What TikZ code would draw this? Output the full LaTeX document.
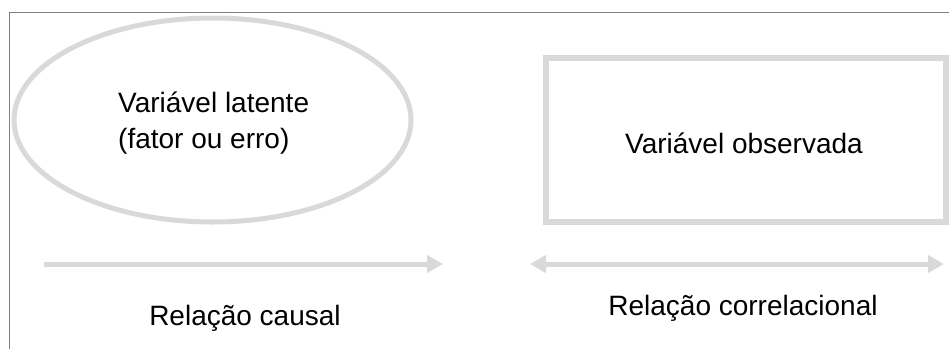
\documentclass[tikz,border=0pt]{standalone}
\usepackage{fontspec}
\setmainfont{Liberation Sans}
\usetikzlibrary{arrows.meta,shapes.geometric}
\definecolor{shapegray}{HTML}{D9D9D9}
\definecolor{framegray}{HTML}{808080}
\tikzset{
  frameline/.style={draw=framegray,line width=1.5pt},
  shapeline/.style={draw=shapegray,line width=5pt},
  label/.style={font=\fontsize{28}{34}\selectfont,text=black,inner sep=0pt,anchor=base},
  labelleft/.style={label,anchor=base west},
  arrowline/.style={draw=shapegray,line width=5pt},
  tip/.tip={Triangle[length=16pt,width=17pt]}
}
\begin{document}
\begin{tikzpicture}[x=1pt,y=-1pt]
  \useasboundingbox (0,0) rectangle (949,349);
  % open frame: top and left edges
  \coordinate (ftr) at (949,12.5);
  \coordinate (ftl) at (9.5,12.5);
  \coordinate (fbl) at (9.5,349);
  \draw[frameline] (ftr) -- (ftl) -- (fbl);

  % latent variable
  \node[ellipse,shapeline,minimum width=397pt,minimum height=204pt,inner sep=0pt] (lat) at (212.5,120) {};
  \node[labelleft] (lat1) at (118,112) {Variável latente};
  \node[labelleft] (lat2) at (118,148) {(fator ou erro)};

  % observed variable
  \node[rectangle,draw=shapegray,line width=6pt,minimum width=399.5pt,minimum height=164pt,inner sep=0pt] (obs) at (745.75,140) {};
  \node[label] (obst) at (744,153) {Variável observada};

  % causal relation
  \coordinate (ca) at (44,264);
  \coordinate (cb) at (443,264);
  \draw[arrowline,-tip] (ca) -- (cb);
  \node[label] (causal) at (245,325) {Relação causal};

  % correlational relation
  \coordinate (ra) at (530,264);
  \coordinate (rb) at (944,264);
  \draw[arrowline,tip-tip] (ra) -- (rb);
  \node[label] (corr) at (743,315) {Relação correlacional};
\end{tikzpicture}
\end{document}
